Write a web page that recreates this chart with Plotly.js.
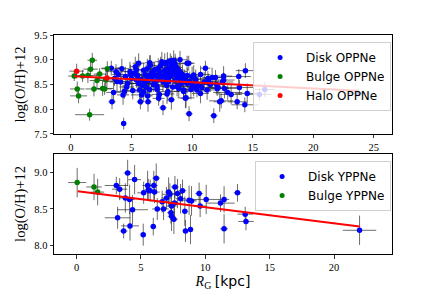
<!DOCTYPE html>
<html>
<head>
<meta charset="utf-8">
<script src="https://cdn.plot.ly/plotly-3.0.1.min.js"></script>
<style>html,body{margin:0;padding:0;background:#fff;}#chart{width:436px;height:291px;}</style>
</head>
<body>
<div id="chart"></div>
<script>
// ---------- Top panel: OPPNe ----------
const diskOR = [3.33,3.39,3.52,3.72,3.80,4.35,4.30,4.40,4.49,4.68,4.87,5.31,5.40,5.59,5.67,5.73,5.83,6.00,6.06,6.28,6.50,6.55,6.78,6.97,7.10,7.21,7.60,7.74,7.93,8.07,8.21,8.29,8.48,8.62,8.76,8.89,9.17,9.30,9.45,9.59,9.72,9.75,10.00,10.13,10.40,10.69,11.10,11.24,11.37,11.65,11.79,12.07,12.28,
  5.37,6.33,6.36,7.24,7.96,8.64,9.59,9.50,10.13,11.93,
  14.40,13.85,12.60,12.60,12.67,12.15,12.94,13.22,12.40,13.90,14.55,13.72,14.35,16.00,15.56,23.70,
  5.0,5.2,5.5,5.8,6.1,6.3,6.4,6.6,6.7,6.9,7.0,7.2,7.3,7.4,7.5,7.6,7.7,7.8,7.9,8.0,8.1,8.2,8.3,8.4,8.5,8.6,8.7,8.8,8.9,9.0,9.1,9.2,9.4,9.6,9.8,10.0,10.3,10.5,10.8,11.0,11.5,5.9,6.2,6.8,7.1,7.9,8.4,8.9,9.3,9.9,4.6,4.9,5.4,6.5,7.5,8.2,8.6,9.0,3.6,4.1,3.9,4.2,5.1,5.6,6.0,7.3,8.0,10.7,11.3,12.0,12.5];
const diskOV = [8.83,8.15,8.34,8.76,8.56,7.71,8.29,8.36,8.66,8.52,8.76,8.86,8.59,8.93,8.39,8.15,8.29,8.79,8.52,8.66,8.40,8.89,8.76,8.56,8.46,8.83,8.03,8.93,8.31,8.56,8.76,8.19,8.99,8.69,8.46,8.79,8.59,8.39,8.22,8.52,8.93,7.91,8.66,8.46,8.39,8.32,8.83,8.39,8.56,8.64,7.87,8.42,8.15,
  8.70,8.27,8.15,8.22,8.95,8.86,8.93,8.23,8.69,8.64,
  8.78,8.66,8.67,8.59,8.42,8.44,8.34,8.30,8.17,8.44,8.32,8.15,8.09,8.40,8.30,8.32,
  8.62,8.72,8.68,8.60,8.70,8.82,8.58,8.72,8.64,8.80,8.68,8.60,8.74,8.88,8.66,8.55,8.78,8.70,8.62,8.84,8.72,8.66,8.90,8.80,8.72,8.58,8.84,8.70,8.64,8.76,8.52,8.70,8.62,8.68,8.56,8.50,8.60,8.48,8.44,8.55,8.50,8.48,8.45,8.50,8.40,8.48,8.45,8.42,8.36,8.40,8.45,8.70,8.80,8.94,8.96,8.98,8.92,9.00,8.62,8.55,8.70,8.82,8.38,8.52,8.35,8.30,8.36,8.70,8.62,8.50,8.55];
const diskOXerr = [0.8,0.3,0.6,0.9,1.0,0.2,0.5,0.7,0.6,1.2,0.5,0.4,0.8,0.5,0.6,0.3,0.9,0.7,1.1,0.5,0.8,0.4,0.6,1.3,0.5,0.7,0.3,0.5,0.6,1.0,0.4,0.3,0.6,0.8,1.2,0.5,0.9,0.6,0.4,1.0,0.5,0.3,0.8,0.6,0.9,0.7,0.4,1.1,0.6,0.8,0.3,1.0,0.5,
  0.6,0.4,0.3,0.5,0.6,0.4,0.5,0.7,0.5,0.9,
  0.8,1.0,0.7,0.9,1.1,0.8,1.2,0.9,1.0,1.2,1.0,0.8,1.1,0.8,1.0,1.0,
  0.7,0.5,0.9,0.6,1.0,0.4,0.8,0.6,1.1,0.5,0.7,0.9,0.4,0.6,1.2,0.5,0.8,0.6,0.9,0.5,0.7,1.0,0.4,0.6,0.8,1.1,0.5,0.7,0.9,0.6,0.8,0.5,1.0,0.7,0.6,0.9,0.8,0.5,1.2,0.7,0.9,0.6,0.8,1.0,0.5,0.7,0.9,0.6,0.8,1.1,0.6,0.5,0.7,0.4,0.6,0.5,0.8,0.6,0.7,0.9,0.5,0.6,0.8,1.0,0.7,0.6,0.9,0.8,0.7,1.0,0.9];
const diskOYerr = [0.15,0.15,0.2,0.15,0.2,0.12,0.2,0.15,0.2,0.15,0.2,0.2,0.15,0.2,0.2,0.15,0.2,0.15,0.2,0.2,0.15,0.2,0.2,0.15,0.2,0.2,0.15,0.2,0.2,0.15,0.2,0.2,0.2,0.15,0.2,0.15,0.2,0.15,0.2,0.2,0.15,0.15,0.2,0.2,0.15,0.2,0.15,0.2,0.15,0.2,0.15,0.15,0.2,
  0.2,0.15,0.2,0.15,0.2,0.2,0.15,0.2,0.2,0.15,
  0.15,0.15,0.2,0.15,0.2,0.15,0.15,0.2,0.15,0.15,0.2,0.15,0.15,0.15,0.12,0.1,
  0.2,0.15,0.2,0.18,0.15,0.2,0.15,0.2,0.18,0.15,0.2,0.15,0.2,0.18,0.15,0.2,0.15,0.2,0.18,0.2,0.15,0.2,0.18,0.15,0.2,0.15,0.2,0.18,0.15,0.2,0.15,0.2,0.18,0.15,0.2,0.15,0.2,0.18,0.15,0.2,0.15,0.2,0.18,0.15,0.2,0.15,0.2,0.18,0.15,0.2,0.15,0.2,0.18,0.15,0.2,0.15,0.2,0.18,0.15,0.2,0.15,0.2,0.18,0.15,0.2,0.15,0.2,0.18,0.15,0.2,0.15];

const bulgeOR = [0.27,0.52,0.63,1.54,1.76,1.62,0.96,1.40,2.15,2.37,1.90,2.61,2.78,3.00,2.86];
const bulgeOV = [8.67,8.41,8.27,7.89,8.99,8.81,8.67,8.68,8.58,8.71,8.41,8.42,8.41,8.82,8.59];
const bulgeOXerr = [0.5,0.6,0.7,1.2,0.4,0.6,0.5,0.8,0.6,0.5,0.7,0.9,0.6,0.5,0.7];
const bulgeOYerr = [0.1,0.15,0.15,0.12,0.15,0.15,0.12,0.15,0.15,0.12,0.15,0.15,0.12,0.15,0.15];

const haloOR = [0.47,2.97];
const haloOV = [8.77,8.63];
const haloOXerr = [0.6,0.8];
const haloOYerr = [0.15,0.2];

const fitOR = [0.27,23.7];
const fitOV = [8.665,8.375];

// ---------- Bottom panel: YPPNe ----------
const diskYR = [3.09,3.35,3.97,3.79,4.12,3.19,3.66,4.15,4.35,4.51,5.18,5.21,5.52,5.72,6.00,6.06,6.19,6.27,5.96,6.76,6.65,6.99,7.15,7.25,7.38,7.38,7.56,7.61,7.64,7.84,8.08,8.23,8.41,8.46,8.74,8.85,8.93,9.52,9.60,10.07,11.18,11.46,12.50,11.46,13.10,13.16,21.98,7.33,5.57];
const diskYV = [8.82,8.77,8.99,8.65,8.63,8.38,8.20,8.27,8.49,8.90,8.15,8.72,8.82,8.75,8.82,8.73,8.92,8.50,8.26,8.50,8.60,8.65,8.73,8.70,8.54,8.40,8.36,8.58,8.80,8.71,8.64,8.75,8.47,8.20,8.62,8.22,8.61,8.71,8.54,8.63,8.58,8.63,8.72,8.23,8.43,8.33,8.21,8.45,8.76];
const diskYXerr = [0.9,0.6,0.3,0.5,0.4,1.0,0.3,0.7,1.2,0.5,0.2,0.5,0.4,0.3,0.3,0.4,0.3,0.4,0.2,0.4,0.5,0.4,0.3,0.6,0.4,0.3,0.3,0.5,0.3,0.4,0.4,0.3,0.2,0.2,0.5,0.2,0.4,0.3,0.5,1.0,1.1,0.4,0.3,0.3,0.6,0.6,1.3,0.3,0.3];
const diskYYerr = [0.12,0.15,0.18,0.2,0.2,0.15,0.1,0.2,0.2,0.2,0.15,0.15,0.2,0.15,0.2,0.15,0.2,0.15,0.12,0.15,0.15,0.15,0.2,0.15,0.2,0.2,0.2,0.2,0.15,0.2,0.2,0.15,0.2,0.15,0.2,0.2,0.2,0.15,0.15,0.2,0.12,0.18,0.12,0.2,0.1,0.12,0.2,0.15,0.15];

const bulgeYR = [0.05,1.36,1.64];
const bulgeYV = [8.86,8.80,8.73];
const bulgeYXerr = [0.7,0.6,0.5];
const bulgeYYerr = [0.2,0.18,0.18];

const fitYR = [0.09,21.98];
const fitYV = [8.74,8.26];

const legendNames = ['Disk OPPNe','Bulge OPPNe','Halo OPPNe','Disk YPPNe','Bulge YPPNe'];

// ---------- styles ----------
const BLUE = '#0000ff', GREEN = '#008000', RED = '#ff0000';
const ERRC = 'rgba(30,30,30,0.65)';
function pts(x, y, xe, ye, color, xa, ya) {
  return {
    type: 'scatter', mode: 'markers', x: x, y: y, xaxis: xa, yaxis: ya,
    marker: {color: color, size: 5.5},
    error_x: {type: 'data', array: xe, visible: true, color: ERRC, thickness: 1, width: 0},
    error_y: {type: 'data', array: ye, visible: true, color: ERRC, thickness: 1, width: 0},
    showlegend: false, hoverinfo: 'skip'
  };
}
function leg(name, color, legend) {
  return {type: 'scatter', mode: 'markers', x: [null], y: [null], name: name,
    marker: {color: color, size: 5}, showlegend: true, legend: legend, xaxis: 'x', yaxis: 'y'};
}

const data = [
  pts(diskOR, diskOV, diskOXerr, diskOYerr, BLUE, 'x', 'y'),
  pts(bulgeOR, bulgeOV, bulgeOXerr, bulgeOYerr, GREEN, 'x', 'y'),
  pts(haloOR, haloOV, haloOXerr, haloOYerr, RED, 'x', 'y'),
  {type: 'scatter', mode: 'lines', x: fitOR, y: fitOV, xaxis: 'x', yaxis: 'y', line: {color: RED, width: 2}, showlegend: false, hoverinfo: 'skip'},
  pts(diskYR, diskYV, diskYXerr, diskYYerr, BLUE, 'x2', 'y2'),
  pts(bulgeYR, bulgeYV, bulgeYXerr, bulgeYYerr, GREEN, 'x2', 'y2'),
  {type: 'scatter', mode: 'lines', x: fitYR, y: fitYV, xaxis: 'x2', yaxis: 'y2', line: {color: RED, width: 2}, showlegend: false, hoverinfo: 'skip'},
  leg(legendNames[0], BLUE, 'legend'),
  leg(legendNames[1], GREEN, 'legend'),
  leg(legendNames[2], RED, 'legend'),
  leg(legendNames[3], BLUE, 'legend2'),
  leg(legendNames[4], GREEN, 'legend2')
];

const SERIF = 'Liberation Serif, DejaVu Serif, serif';
const SANS = 'DejaVu Sans, sans-serif';
const axisCommon = {
  showgrid: false, zeroline: false, showline: true, mirror: true,
  linecolor: '#000', linewidth: 1, ticks: 'outside', ticklen: 3.5, tickwidth: 0.8, tickcolor: '#000',
  tickfont: {family: SERIF, size: 10.5, color: '#000'}
};
const legendCommon = {
  bgcolor: 'rgba(255,255,255,0.8)', bordercolor: '#d0d0d0', borderwidth: 1,
  font: {family: SANS, size: 12, color: '#000'},
  xanchor: 'left', yanchor: 'top', itemwidth: 42, tracegroupgap: 0
};

const layout = {
  width: 436, height: 291,
  margin: {l: 54, r: 44, t: 35, b: 37},
  paper_bgcolor: '#fff', plot_bgcolor: '#fff',
  showlegend: true,
  xaxis: Object.assign({}, axisCommon, {domain: [0, 1], anchor: 'y', range: [-1.4, 26.5], tickvals: [0,5,10,15,20,25]}),
  yaxis: Object.assign({}, axisCommon, {domain: [0.548, 1], anchor: 'x', range: [7.5, 9.5], tickvals: [7.5,8.0,8.5,9.0,9.5], ticktext: ['7.5','8.0','8.5','9.0','9.5'],
    title: {text: 'log(O/H)+12', font: {family: SERIF, size: 14.5, color: '#000'}, standoff: 5}}),
  xaxis2: Object.assign({}, axisCommon, {domain: [0, 1], anchor: 'y2', range: [-1.75, 24.5], tickvals: [0,5,10,15,20],
    title: {text: '<i>R</i><sub>G</sub> <span style="font-family:DejaVu Sans">[kpc]</span>', font: {family: SERIF, size: 14, color: '#000'}, standoff: 4}}),
  yaxis2: Object.assign({}, axisCommon, {domain: [0, 0.457], anchor: 'x2', range: [7.887, 9.25], tickvals: [8.0,8.5,9.0], ticktext: ['8.0','8.5','9.0'],
    title: {text: 'log(O/H)+12', font: {family: SERIF, size: 14.5, color: '#000'}, standoff: 5}}),
  legend: Object.assign({}, legendCommon, {x: 0.589, y: 0.968}),
  legend2: Object.assign({}, legendCommon, {x: 0.595, y: 0.425})
};

Plotly.newPlot('chart', data, layout, {staticPlot: true, displayModeBar: false});
</script>
</body>
</html>
